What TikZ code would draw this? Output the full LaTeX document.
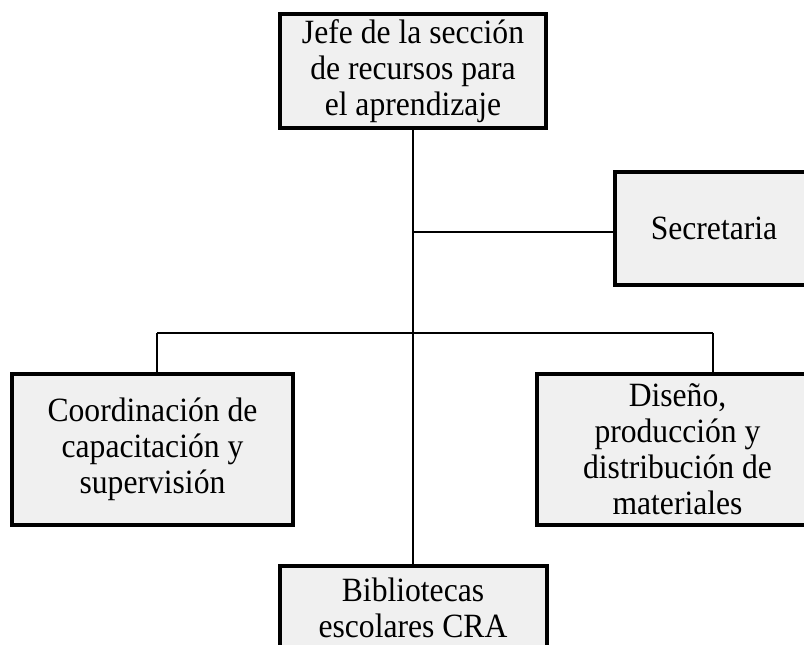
\documentclass[tikz,border=0pt]{standalone}
\usepackage{fontspec}
\setmainfont[FakeStretch=0.93]{Liberation Serif}
\definecolor{cajafill}{RGB}{240,240,240}

\begin{document}
\begin{tikzpicture}[x=0.75pt, y=-0.75pt] %Organigrama
	\tikzstyle{caja} = [rectangle, draw, line width=3pt, fill=cajafill, inner sep=0pt, text centered, align=center, font=\fontsize{25.5}{27}\selectfont]
	\tikzstyle{linea} = [draw, line width=1.5pt]
	\useasboundingbox (0,0) rectangle (804,645);
	\clip (0,0) rectangle (804,645);
	\node[caja, minimum width=199.5pt, minimum height=85.5pt] (jefe) at (413,71) {Jefe de la sección\\de recursos para\\el aprendizaje};
	\node[caja, minimum width=148.5pt, minimum height=84.75pt] (secre) at (714,228.5) {Secretaria};
	\node[caja, minimum width=210.75pt, minimum height=113.25pt] (coord) at (152.5,449.5) {Coordinación de\\capacitación y\\supervisión};
	\node[caja, minimum width=210.75pt, minimum height=113.25pt] (diseno) at (677.5,449.5) {Diseño,\\producción y\\distribución de\\materiales};
	\node[caja, minimum width=200.25pt, minimum height=63pt] (biblio) at (413,608) {Bibliotecas\\escolares CRA};
	\coordinate (rama) at (413,232);
	\coordinate (izq) at (157,333);
	\coordinate (der) at (713,333);
	\draw[linea] (jefe) -- (biblio);
	\draw[linea] (rama) -- (rama -| secre.west);
	\draw[linea] (izq) -- (der);
	\foreach \n/\c in {coord/izq, diseno/der}
	{
		\draw[linea] (\c) -- (\c |- \n.north);
	}
\end{tikzpicture}
\end{document}
